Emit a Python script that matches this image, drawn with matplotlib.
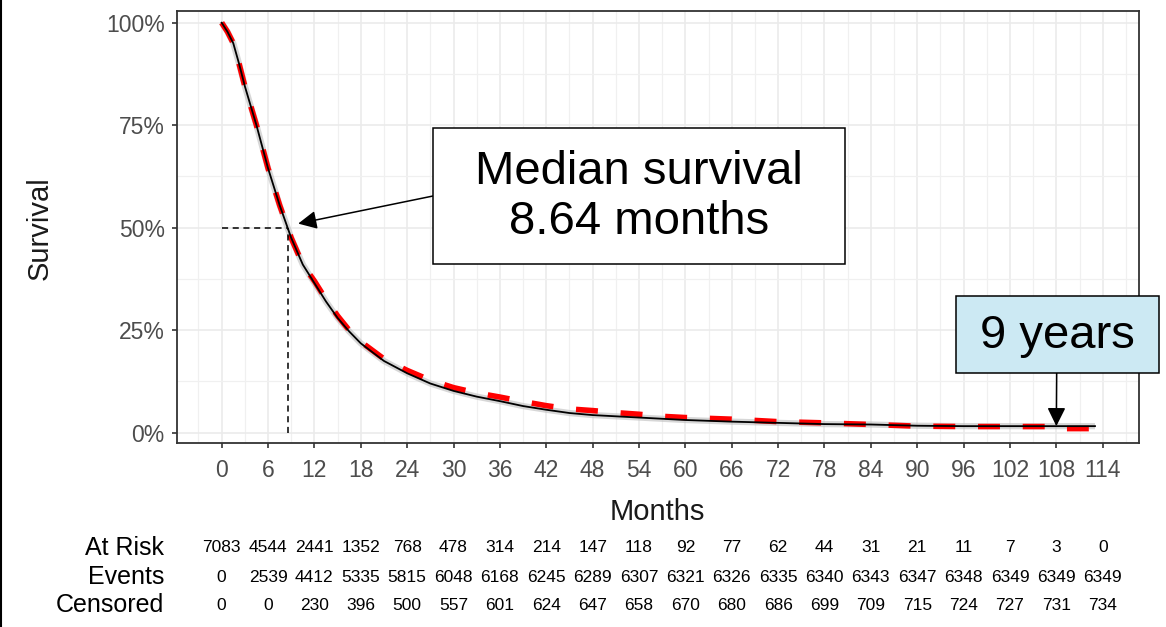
import matplotlib
matplotlib.use("Agg")
import matplotlib.pyplot as plt
from matplotlib.patches import Rectangle
from matplotlib.lines import Line2D
import matplotlib.transforms as mtransforms

# ---------------- data ----------------
km_months = [0, 0.75, 1.5, 2.25, 3, 4.5, 6, 7.5, 9, 10.5, 12, 13.5, 15, 16.5, 18, 21, 24, 27,
             30, 33, 36, 39, 42, 45, 48, 51, 54, 57, 60, 66, 72, 78, 84, 90, 96, 102, 108, 113]
km_surv = [1.0, 0.978, 0.95, 0.9, 0.845, 0.75, 0.645, 0.555, 0.475, 0.41, 0.365, 0.32, 0.28,
           0.247, 0.218, 0.175, 0.145, 0.12, 0.102, 0.088, 0.077, 0.065, 0.056, 0.048, 0.043,
           0.040, 0.037, 0.034, 0.031, 0.027, 0.024, 0.021, 0.020, 0.017, 0.016, 0.016,
           0.016, 0.016]

model_months = [0, 0.75, 1.5, 2.25, 3, 4.5, 6, 7.5, 9, 10.5, 12, 13.5, 15, 16.5, 18, 21, 24,
                27, 30, 33, 36, 39, 42, 45, 48, 51, 54, 57, 60, 66, 72, 78, 84, 90, 96, 102,
                108.5, 109, 112.2]
model_surv = [1.0, 0.978, 0.95, 0.9, 0.845, 0.75, 0.645, 0.555, 0.475, 0.41, 0.37, 0.325,
              0.285, 0.25, 0.222, 0.18, 0.152, 0.128, 0.11, 0.097, 0.087, 0.076, 0.066,
              0.058, 0.054, 0.049, 0.045, 0.040, 0.037, 0.033, 0.027, 0.024, 0.020, 0.016,
              0.015, 0.015, 0.015, 0.010, 0.010]

median_months = 8.64
median_surv = 0.5
median_arrow_target = (9.9, 0.51)
nine_years_target = (108, 0.016)

x_ticks = list(range(0, 115, 6))
x_minor = list(range(-3, 120, 6))
y_ticks = [0, 0.25, 0.5, 0.75, 1.0]
y_minor = [0.125, 0.375, 0.625, 0.875]
y_labels = ["0%", "25%", "50%", "75%", "100%"]

row_labels = ["At Risk", "Events", "Censored"]
at_risk = [7083, 4544, 2441, 1352, 768, 478, 314, 214, 147, 118, 92, 77, 62, 44, 31, 21, 11, 7, 3, 0]
events = [0, 2539, 4412, 5335, 5815, 6048, 6168, 6245, 6289, 6307, 6321, 6326, 6335, 6340,
          6343, 6347, 6348, 6349, 6349, 6349]
censored = [0, 0, 230, 396, 500, 557, 601, 624, 647, 658, 670, 680, 686, 699, 709, 715, 724,
            727, 731, 734]

# ---------------- figure ----------------
plt.rcParams["font.family"] = ["Liberation Sans", "DejaVu Sans"]
W, H = 1166, 627
fig = plt.figure(figsize=(W / 100, H / 100), dpi=100)


def fx(px):
    return px / W


def fy(py):
    return 1 - py / H


ax = fig.add_axes([fx(177), fy(443), fx(1138.5) - fx(177), fy(10.7) - fy(443)])
ax.set_xlim(-5.78, 118.63)
ax.set_ylim(-0.0251, 1.0293)

ax.set_xticks(x_ticks)
ax.set_xticklabels([str(t) for t in x_ticks])
ax.set_xticks(x_minor, minor=True)
ax.set_yticks(y_ticks)
ax.set_yticklabels(y_labels)
ax.set_yticks(y_minor, minor=True)

ax.grid(which="major", color="#EBEBEB", lw=1.2)
ax.grid(which="minor", color="#F0F0F0", lw=0.9)
ax.set_axisbelow(True)
ax.tick_params(which="minor", length=0)
ax.tick_params(which="major", length=3.8, width=1.2, color="#333333",
               labelsize=16.5, labelcolor="#4D4D4D")
ax.tick_params(axis="x", pad=8)
ax.tick_params(axis="y", pad=5)
for s in ax.spines.values():
    s.set_color("#333333")
    s.set_linewidth(1.3)

# confidence shadow, model dashes, KM line
ax.plot(km_months, km_surv, color="#BDBDBD", lw=4.5, alpha=0.6, zorder=2,
        solid_capstyle="butt")
ax.plot(model_months, model_surv, color="#FF0000", lw=4.0, dashes=(3.95, 4.1),
        dash_capstyle="butt", zorder=3)
ax.plot(km_months, km_surv, color="black", lw=1.3, zorder=4)

# median guide lines
ax.plot([0, median_months], [median_surv, median_surv], color="black", lw=1.1,
        ls=(0, (4, 3)), zorder=5)
ax.plot([median_months, median_months], [0, median_surv], color="black", lw=1.1,
        ls=(0, (4, 3)), zorder=5)

# axis titles
fig.text(fx(40), fy(228), "Survival", rotation=90, ha="center", va="center",
         fontsize=21, color="#1A1A1A")
fig.text(fx(657), fy(512), "Months", ha="center", va="center", fontsize=21,
         color="#1A1A1A")

# median annotation box
fig.add_artist(Rectangle((fx(433), fy(264)), fx(845) - fx(433), fy(128) - fy(264),
                         transform=fig.transFigure, facecolor="white", edgecolor="black",
                         lw=1.1, zorder=10))
fig.text(fx(639), fy(197), "Median survival\n8.64 months", ha="center", va="center",
         fontsize=34, linespacing=1.15, zorder=11)
ax.annotate("", xy=median_arrow_target, xycoords="data",
            xytext=(fx(433), fy(196)), textcoords="figure fraction",
            arrowprops=dict(arrowstyle="-|>,head_length=0.75,head_width=0.37",
                            color="black", lw=1.1, mutation_scale=15,
                            shrinkA=0, shrinkB=0),
            zorder=9, annotation_clip=False)

# 9 years box
fig.add_artist(Rectangle((fx(955.7), fy(373)), fx(1159) - fx(955.7), fy(295.7) - fy(373),
                         transform=fig.transFigure, facecolor="#CCE9F3", edgecolor="black",
                         lw=1.1, zorder=10))
fig.text(fx(1057), fy(336), "9 years", ha="center", va="center", fontsize=34, zorder=11)
ax.annotate("", xy=nine_years_target, xycoords="data",
            xytext=(fx(1056.7), fy(373)), textcoords="figure fraction",
            arrowprops=dict(arrowstyle="-|>,head_length=0.75,head_width=0.37",
                            color="black", lw=1.1, mutation_scale=15,
                            shrinkA=0, shrinkB=0),
            zorder=9, annotation_clip=False)

# risk table
trans = mtransforms.blended_transform_factory(ax.transData, fig.transFigure)
row_y = [548, 577, 605]
for lab, yy, vals in zip(row_labels, row_y, [at_risk, events, censored]):
    fig.text(fx(164), fy(yy), lab, ha="right", va="center", fontsize=18, color="black")
    for t, v in zip(x_ticks, vals):
        ax.text(t, fy(yy), str(v), transform=trans, ha="center", va="center",
                fontsize=12.5, color="black", clip_on=False)

# left slide border
fig.add_artist(Line2D([0.0012, 0.0012], [0, 1], transform=fig.transFigure,
                      color="black", lw=1.5))

fig.savefig("out.png", dpi=100)
